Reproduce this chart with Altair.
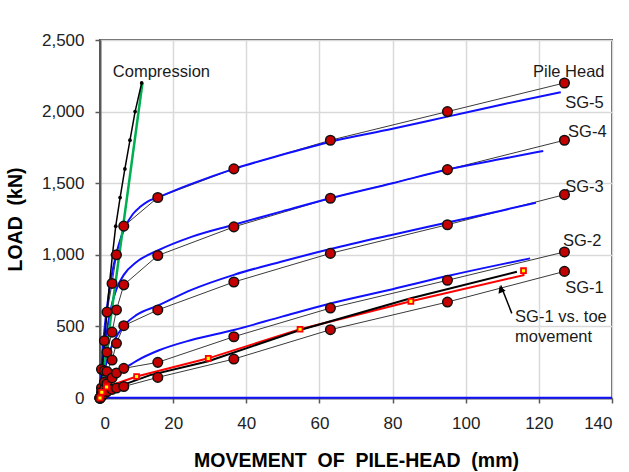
import altair as alt
import pandas as pd

# ---------------- data ----------------
head_mov = [0, 0.4, 1.2, 1.9, 3.3, 4.5, 6.5, 15.8, 36.6, 63, 95, 127]
load_head = [0, 200, 400, 600, 800, 1000, 1200, 1400, 1600, 1800, 2000, 2200]
load_sg4 = [0, 70, 190, 320, 460, 615, 790, 995, 1195, 1395, 1595, 1800]
load_sg3 = [0, 40, 110, 185, 265, 382, 505, 615, 810, 1010, 1210, 1420]
load_sg2 = [0, 20, 60, 100, 140, 175, 207, 249, 428, 628, 822, 1020]
load_sg1 = [0, 10, 30, 45, 60, 70, 80, 144, 272, 477, 670, 884]

fit5_x = [0, 0.5, 1, 2, 3.3, 5, 7, 9, 11, 13, 15.8, 20, 25, 36.6, 50, 63, 80, 95, 110, 126]
fit5_y = [0, 250, 420, 650, 870, 1060, 1200, 1285, 1335, 1372, 1400, 1445, 1495, 1600, 1700, 1790, 1880, 1965, 2050, 2135]
fit4_x = [0, 0.5, 1, 2, 3.3, 4.5, 6.5, 10, 15.8, 25, 36.6, 50, 63, 80, 95, 110, 121.2]
fit4_y = [0, 150, 290, 490, 660, 760, 860, 950, 1030, 1125, 1210, 1305, 1395, 1500, 1595, 1670, 1725]
fit3_x = [0, 0.5, 1, 2, 3.3, 5, 6.9, 10, 15.8, 25, 36.6, 50, 63, 80, 95, 110, 119.2]
fit3_y = [0, 90, 160, 270, 370, 450, 515, 580, 645, 755, 860, 955, 1040, 1140, 1225, 1310, 1364]
fit2_x = [0, 0.5, 1, 3, 6, 10, 15.8, 25, 36.6, 50, 63, 80, 95, 110, 117.6]
fit2_y = [0, 70, 114, 155, 195, 260, 330, 405, 475, 570, 660, 760, 852, 935, 975]
toe_base_x = [0, 140]
toe_base_y = [2, 2]

toe_x = [0, 0.5, 1.8, 10, 29.6, 54.7, 85, 115.8, 115.8]
toe_y = [0, 40, 77, 150, 277, 480, 675, 858, 889]
toe_marked = [1, 1, 1, 1, 1, 1, 1, 0, 1]
toefit_x = [0, 5, 13.7, 29.6, 54.7, 85, 114]
toefit_y = [0, 80, 160, 257, 475, 696, 882]

comp_x = [0, 0.6, 1.2, 1.9, 2.6, 3.4, 4.3, 5.5, 6.8, 8.2, 9.6, 11.4]
comp_load = [0, 200, 400, 600, 800, 1000, 1200, 1400, 1600, 1800, 2000, 2200]
comp_fit_x = [0, 11.6]
comp_fit_y = [0, 2200]

label_text = ["Compression", "Pile Head", "SG-5", "SG-4", "SG-3", "SG-2", "SG-1", "SG-1 vs. toe", "movement"]
label_x = [3.5, 118.4, 127.2, 128.0, 127.2, 126.6, 127.2, 113.5, 113.5]
label_y = [2277, 2279, 2058, 1860, 1476, 1098, 766, 566, 424]

arrow_tail = (112.6, 591)
arrow_tip = (109.6, 785)

NB = "\u00a0"
x_title = f"MOVEMENT{NB}{NB}OF{NB}{NB}PILE-HEAD{NB}{NB}(mm)"
y_title = f"LOAD{NB}{NB}(kN)"

# ---------------- frames ----------------
def frame(xs, ys, name):
    return pd.DataFrame({"x": xs, "y": ys, "s": name, "i": range(len(xs))})

measured = pd.concat([
    frame(head_mov, load_head, "Pile Head"),
    frame(head_mov, load_sg4, "SG-4"),
    frame(head_mov, load_sg3, "SG-3"),
    frame(head_mov, load_sg2, "SG-2"),
    frame(head_mov, load_sg1, "SG-1"),
])
fits = pd.concat([
    frame(fit5_x, fit5_y, "f5"),
    frame(fit4_x, fit4_y, "f4"),
    frame(fit3_x, fit3_y, "f3"),
    frame(fit2_x, fit2_y, "f2"),
    frame(toe_base_x, toe_base_y, "base"),
])
toe = frame(toe_x, toe_y, "toe")
toe["m"] = toe_marked
toefit = frame(toefit_x, toefit_y, "toefit")
comp = frame(comp_x, comp_load, "comp")
compfit = frame(comp_fit_x, comp_fit_y, "compfit")
labels = pd.DataFrame({"x": label_x, "y": label_y, "t": label_text})
arrow = pd.DataFrame({"x": [arrow_tail[0]], "y": [arrow_tail[1]],
                      "x2": [arrow_tip[0]], "y2": [arrow_tip[1]]})
arrow_head = pd.DataFrame({"x": [arrow_tip[0]], "y": [arrow_tip[1] - 25]})

FONT = "Liberation Sans"

xscale = alt.Scale(domain=[0, 140], nice=False)
yscale = alt.Scale(domain=[0, 2500], nice=False)

xaxis = alt.Axis(
    values=list(range(0, 141, 10)),
    labelExpr="datum.value % 20 == 0 ? format(datum.value, 'd') : ''",
    gridOpacity={"condition": {"test": "datum.value % 20 == 0 && datum.value > 0", "value": 1}, "value": 0},
    title=x_title,
)
yaxis = alt.Axis(
    values=list(range(0, 2501, 250)),
    labelExpr="datum.value % 500 == 0 ? format(datum.value, ',') : ''",
    gridOpacity={"condition": {"test": "datum.value % 500 == 0 && datum.value > 0", "value": 1}, "value": 0},
    title=y_title,
)

X = alt.X("x:Q", scale=xscale, axis=xaxis)
Y = alt.Y("y:Q", scale=yscale, axis=yaxis)
Xn = alt.X("x:Q", scale=xscale)
Yn = alt.Y("y:Q", scale=yscale)

base_layer = alt.Chart(measured).mark_line(color="#3a3a3a", strokeWidth=1).encode(
    x=X, y=Y, detail="s:N", order="i:Q")

fit_layer = alt.Chart(fits).mark_line(color="#1010ff", strokeWidth=2, interpolate="monotone").encode(
    x=Xn, y=Yn, detail="s:N", order="i:Q")

toe_line = alt.Chart(toe).mark_line(color="#ff0000", strokeWidth=2).encode(
    x=Xn, y=Yn, order="i:Q")
toefit_line = alt.Chart(toefit).mark_line(color="#000000", strokeWidth=2).encode(
    x=Xn, y=Yn, order="i:Q")

comp_green = alt.Chart(compfit).mark_line(color="#00b050", strokeWidth=2.5).encode(
    x=Xn, y=Yn, order="i:Q")
comp_line = alt.Chart(comp).mark_line(color="#000000", strokeWidth=1.5).encode(
    x=Xn, y=Yn, order="i:Q")
comp_pts = alt.Chart(comp).mark_circle(color="#000000", size=14, opacity=1).encode(
    x=Xn, y=Yn)

circles = alt.Chart(measured).mark_point(
    shape="circle", filled=True, fill="#c40000", stroke="#111111",
    strokeWidth=1.5, size=92, opacity=1).encode(x=Xn, y=Yn)

squares = alt.Chart(toe).transform_filter("datum.m == 1").mark_point(
    shape="square", filled=True, fill="#ffff00", stroke="#ff0000",
    strokeWidth=1.8, size=24, opacity=1).encode(x=Xn, y=Yn)

arrow_rule = alt.Chart(arrow).mark_rule(color="#000000", strokeWidth=1.5).encode(
    x=Xn, y=Yn, x2="x2:Q", y2="y2:Q")
arrow_tri = alt.Chart(arrow_head).mark_point(
    shape="triangle-up", filled=True, color="#000000", size=60, angle=338, opacity=1).encode(
    x=Xn, y=Yn)

texts = alt.Chart(labels).mark_text(
    align="left", baseline="middle", font=FONT, fontSize=16.5, color="#1a1a1a").encode(
    x=Xn, y=Yn, text="t:N")

chart = alt.layer(
    base_layer, fit_layer, toe_line, toefit_line, comp_green, comp_line, comp_pts,
    circles, squares, arrow_rule, arrow_tri, texts
).properties(
    width=512, height=358,
    autosize=alt.AutoSizeParams(type="none"),
    padding={"left": 100, "top": 40, "right": 17, "bottom": 74},
).configure_view(
    stroke="#595959", strokeWidth=2
).configure_axis(
    labelFont=FONT, labelFontSize=17, labelColor="#222222",
    titleFont=FONT, titleFontSize=19.5, titleFontWeight="bold", titleColor="#000000",
    domainColor="#595959", domainWidth=2,
    tickColor="#595959", tickSize=5, tickWidth=1.5,
    gridColor="#d9d9d9", gridWidth=1.5,
).configure_axisX(
    labelPadding=12, titlePadding=20,
).configure_axisY(
    labelPadding=11, titlePadding=16,
)

chart.save("out.html", embed_options={"renderer": "svg", "actions": False})
